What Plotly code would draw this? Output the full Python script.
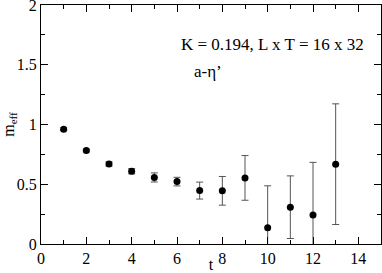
import plotly.graph_objects as go

t = [1, 2, 3, 4, 5, 6, 7, 8, 9, 10, 11, 12, 13]
m_eff = [0.961, 0.782, 0.670, 0.609, 0.557, 0.522, 0.447, 0.445, 0.553, 0.137, 0.308, 0.243, 0.668]
m_err = [0.012, 0.012, 0.018, 0.022, 0.038, 0.036, 0.071, 0.12, 0.187, 0.35, 0.262, 0.44, 0.505]

font = "Liberation Serif"

fig = go.Figure()
fig.add_trace(go.Scatter(
    x=t, y=m_eff, mode="markers",
    marker=dict(color="black", size=7, symbol="circle"),
    error_y=dict(type="data", array=m_err, visible=True, color="#555555", thickness=1, width=3.5),
    showlegend=False,
))

fig.add_annotation(x=0.957, y=0.835, xref="paper", yref="paper", text="K = 0.194, L x T = 16 x 32",
                   showarrow=False, xanchor="right", yanchor="middle",
                   font=dict(family=font, size=17, color="black"))
fig.add_annotation(x=0.443, y=0.72, xref="paper", yref="paper", text="a-η’",
                   showarrow=False, xanchor="left", yanchor="middle",
                   font=dict(family=font, size=17, color="black"))

axis_common = dict(
    showline=True, linecolor="black", linewidth=1, mirror="ticks",
    ticks="inside", ticklen=7, tickcolor="black", showgrid=False, zeroline=False,
    tickfont=dict(family=font, size=16, color="black"),
    automargin=False, ticklabeloverflow="allow",
)

fig.update_layout(
    width=382, height=273,
    margin=dict(l=41, r=1, t=5, b=29),
    paper_bgcolor="white", plot_bgcolor="white",
    font=dict(family=font),
    xaxis=dict(range=[0, 15], tickvals=[0, 2, 4, 6, 8, 10, 12, 14],
               minor=dict(ticks="inside", tickvals=list(range(0, 16)), ticklen=4, tickcolor="black"),
               title=dict(text="t", font=dict(family=font, size=16, color="black"), standoff=0),
               ticklabelstandoff=0,
               **axis_common),
    yaxis=dict(range=[0, 2], dtick=0.5, tick0=0,
               minor=dict(ticks="inside", dtick=0.25, ticklen=4, tickcolor="black"),
               title=dict(text="m<sub>eff</sub>", font=dict(family=font, size=16, color="black"), standoff=12),
               **axis_common),
)

fig.write_html("out.html", config={"displayModeBar": False},
               post_script="document.body.style.margin='0';document.body.style.padding='0';")
